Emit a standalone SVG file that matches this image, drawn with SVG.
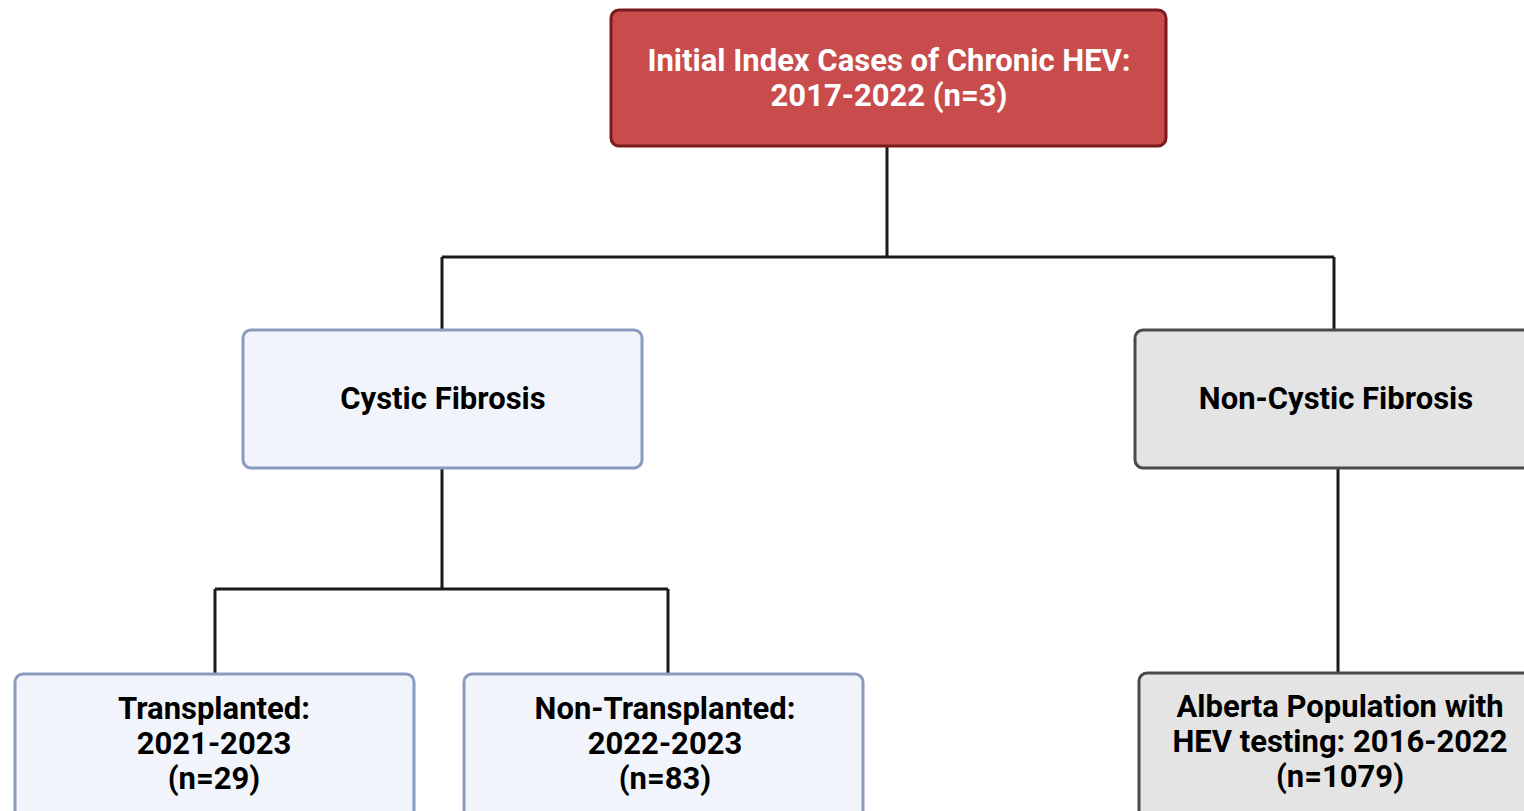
<svg xmlns="http://www.w3.org/2000/svg" width="1524" height="811" viewBox="0 0 1524 811">
<style>
text{font-family:Roboto,"Liberation Sans",sans-serif;font-weight:bold;font-size:31px;text-anchor:middle}
.top rect{fill:#c84c4c;stroke:#7a1a1e;stroke-width:3}
.top text{fill:#ffffff}
.cf rect{fill:#f1f5fb;stroke:#8a9bbf;stroke-width:3}
.ncf rect{fill:#e4e4e4;stroke:#4a4a4a;stroke-width:3}
.cf text,.ncf text{fill:#000000}
#connectors path{fill:none;stroke:#1a1a1a;stroke-width:3}
</style>
<rect width="1524" height="811" fill="#ffffff"/>
<g id="connectors">
<path d="M887 146V257M442 257H1334M442 257V330M1334 257V330"/>
<path d="M442 468V589M215 589H668M215 589V674M668 589V674"/>
<path d="M1338 468V673"/>
</g>
<g id="n-top" class="top">
<rect x="611" y="10" width="555" height="136" rx="8"/>
<text x="889" y="71">Initial Index Cases of Chronic HEV:</text>
<text x="889" y="106">2017-2022 (n=3)</text>
</g>
<g id="n-cf" class="cf">
<rect x="243" y="330" width="399" height="138" rx="8"/>
<text x="443" y="409">Cystic Fibrosis</text>
</g>
<g id="n-ncf" class="ncf">
<rect x="1135" y="330" width="400" height="138" rx="8"/>
<text x="1336" y="409">Non-Cystic Fibrosis</text>
</g>
<g id="n-tx" class="cf">
<rect x="15" y="674" width="399" height="150" rx="8"/>
<text x="214" y="719">Transplanted:</text>
<text x="214" y="754">2021-2023</text>
<text x="214" y="789">(n=29)</text>
</g>
<g id="n-ntx" class="cf">
<rect x="464" y="674" width="399" height="150" rx="8"/>
<text x="665" y="719">Non-Transplanted:</text>
<text x="665" y="754">2022-2023</text>
<text x="665" y="789">(n=83)</text>
</g>
<g id="n-ab" class="ncf">
<rect x="1139" y="673" width="400" height="150" rx="8"/>
<text x="1340" y="717">Alberta Population with</text>
<text x="1340" y="752">HEV testing: 2016-2022</text>
<text x="1340" y="787">(n=1079)</text>
</g>
</svg>
